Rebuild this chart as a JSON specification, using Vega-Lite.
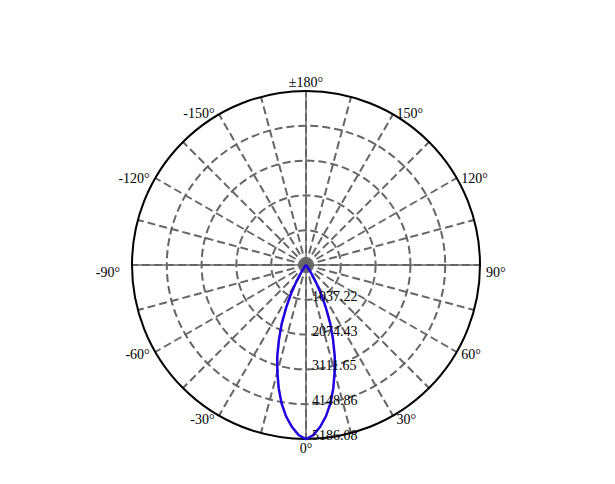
{
  "$schema": "https://vega.github.io/schema/vega-lite/v6.json",
  "width": 348,
  "height": 348,
  "autosize": {"type": "none"},
  "padding": {"left": 132, "top": 91, "right": 135, "bottom": 45},
  "background": "white",
  "config": {
    "view": {"stroke": null},
    "text": {"font": "Liberation Serif", "fontSize": 14, "color": "black"}
  },
  "datasets": {
    "rings": [{"r": 1037.22}, {"r": 2074.43}, {"r": 3111.65}, {"r": 4148.86}],
    "outer": [{"r": 5186.08}],
    "spokes": [
      {"angle": 0}, {"angle": 15}, {"angle": 30}, {"angle": 45}, {"angle": 60}, {"angle": 75},
      {"angle": 90}, {"angle": 105}, {"angle": 120}, {"angle": 135}, {"angle": 150}, {"angle": 165},
      {"angle": 180}, {"angle": 195}, {"angle": 210}, {"angle": 225}, {"angle": 240}, {"angle": 255},
      {"angle": 270}, {"angle": 285}, {"angle": 300}, {"angle": 315}, {"angle": 330}, {"angle": 345}
    ],
    "intensity": [
      {"angle": -180, "cd": 0}, {"angle": -150, "cd": 0}, {"angle": -120, "cd": 0}, {"angle": -90, "cd": 0},
      {"angle": -60, "cd": 0}, {"angle": -50, "cd": 2}, {"angle": -45, "cd": 5}, {"angle": -40, "cd": 15},
      {"angle": -37.5, "cd": 40}, {"angle": -35, "cd": 110}, {"angle": -32.5, "cd": 280}, {"angle": -30, "cd": 580},
      {"angle": -27.5, "cd": 960}, {"angle": -25, "cd": 1400}, {"angle": -22.5, "cd": 1890}, {"angle": -20, "cd": 2350},
      {"angle": -17.5, "cd": 2850}, {"angle": -15, "cd": 3300}, {"angle": -12.5, "cd": 3760}, {"angle": -10, "cd": 4190},
      {"angle": -7.5, "cd": 4550}, {"angle": -5, "cd": 4840}, {"angle": -2.5, "cd": 5072}, {"angle": 0, "cd": 5186.08},
      {"angle": 2.5, "cd": 5072}, {"angle": 5, "cd": 4840}, {"angle": 7.5, "cd": 4550}, {"angle": 10, "cd": 4190},
      {"angle": 12.5, "cd": 3760}, {"angle": 15, "cd": 3300}, {"angle": 17.5, "cd": 2850}, {"angle": 20, "cd": 2350},
      {"angle": 22.5, "cd": 1890}, {"angle": 25, "cd": 1400}, {"angle": 27.5, "cd": 960}, {"angle": 30, "cd": 580},
      {"angle": 32.5, "cd": 280}, {"angle": 35, "cd": 110}, {"angle": 37.5, "cd": 40}, {"angle": 40, "cd": 15},
      {"angle": 45, "cd": 5}, {"angle": 50, "cd": 2}, {"angle": 60, "cd": 0}, {"angle": 90, "cd": 0},
      {"angle": 120, "cd": 0}, {"angle": 150, "cd": 0}, {"angle": 180, "cd": 0}
    ],
    "angleLabels": [
      {"angle": 0, "label": "0°"}, {"angle": 30, "label": "30°"}, {"angle": 60, "label": "60°"},
      {"angle": 90, "label": "90°"}, {"angle": 120, "label": "120°"}, {"angle": 150, "label": "150°"},
      {"angle": 180, "label": "±180°"}, {"angle": -150, "label": "-150°"}, {"angle": -120, "label": "-120°"},
      {"angle": -90, "label": "-90°"}, {"angle": -60, "label": "-60°"}, {"angle": -30, "label": "-30°"}
    ]
  },
  "layer": [
    {
      "data": {"name": "rings"},
      "transform": [{"calculate": "0", "as": "cx"}],
      "mark": {"type": "point", "shape": "circle", "filled": false, "stroke": "#666666", "strokeWidth": 2, "strokeDash": [8, 4], "opacity": 1},
      "encoding": {
        "x": {"field": "cx", "type": "quantitative", "scale": {"domain": [-5186.08, 5186.08], "nice": false, "zero": false}, "axis": null},
        "y": {"field": "cx", "type": "quantitative", "scale": {"domain": [-5186.08, 5186.08], "nice": false, "zero": false}, "axis": null},
        "size": {"field": "r", "type": "quantitative", "scale": {"type": "pow", "exponent": 2, "domain": [0, 5186.08], "range": [0, 121104]}, "legend": null}
      }
    },
    {
      "data": {"name": "spokes"},
      "transform": [
        {"filter": "datum.angle % 90 == 0"},
        {"calculate": "0", "as": "cx"},
        {"calculate": "5186.08 * sin(datum.angle * PI / 180)", "as": "ex"},
        {"calculate": "-5186.08 * cos(datum.angle * PI / 180)", "as": "ey"}
      ],
      "mark": {"type": "rule", "color": "#666666", "strokeWidth": 1.5},
      "encoding": {
        "x": {"field": "cx", "type": "quantitative", "scale": {"domain": [-5186.08, 5186.08], "nice": false, "zero": false}, "axis": null},
        "y": {"field": "cx", "type": "quantitative", "scale": {"domain": [-5186.08, 5186.08], "nice": false, "zero": false}, "axis": null},
        "x2": {"field": "ex"},
        "y2": {"field": "ey"}
      }
    },
    {
      "data": {"name": "spokes"},
      "transform": [
        {"calculate": "0", "as": "cx"},
        {"calculate": "5186.08 * sin(datum.angle * PI / 180)", "as": "ex"},
        {"calculate": "-5186.08 * cos(datum.angle * PI / 180)", "as": "ey"}
      ],
      "mark": {"type": "rule", "color": "#666666", "strokeWidth": 2, "strokeDash": [8, 4]},
      "encoding": {
        "x": {"field": "cx", "type": "quantitative", "scale": {"domain": [-5186.08, 5186.08], "nice": false, "zero": false}, "axis": null},
        "y": {"field": "cx", "type": "quantitative", "scale": {"domain": [-5186.08, 5186.08], "nice": false, "zero": false}, "axis": null},
        "x2": {"field": "ex"},
        "y2": {"field": "ey"}
      }
    },
    {
      "data": {"name": "outer"},
      "transform": [{"calculate": "0", "as": "cx"}],
      "mark": {"type": "point", "shape": "circle", "filled": false, "stroke": "black", "strokeWidth": 2, "opacity": 1},
      "encoding": {
        "x": {"field": "cx", "type": "quantitative", "scale": {"domain": [-5186.08, 5186.08], "nice": false, "zero": false}, "axis": null},
        "y": {"field": "cx", "type": "quantitative", "scale": {"domain": [-5186.08, 5186.08], "nice": false, "zero": false}, "axis": null},
        "size": {"field": "r", "type": "quantitative", "scale": {"type": "pow", "exponent": 2, "domain": [0, 5186.08], "range": [0, 121104]}, "legend": null}
      }
    },
    {
      "data": {"name": "intensity"},
      "transform": [
        {"calculate": "datum.cd * sin(datum.angle * PI / 180)", "as": "px"},
        {"calculate": "-datum.cd * cos(datum.angle * PI / 180)", "as": "py"}
      ],
      "mark": {"type": "line", "color": "#2000e0", "strokeWidth": 2.5},
      "encoding": {
        "x": {"field": "px", "type": "quantitative", "scale": {"domain": [-5186.08, 5186.08], "nice": false, "zero": false}, "axis": null},
        "y": {"field": "py", "type": "quantitative", "scale": {"domain": [-5186.08, 5186.08], "nice": false, "zero": false}, "axis": null},
        "order": {"field": "angle", "type": "quantitative"}
      }
    },
    {
      "data": {"values": [{"r": 1037.22}, {"r": 2074.43}, {"r": 3111.65}, {"r": 4148.86}, {"r": 5186.08}]},
      "transform": [{"calculate": "0", "as": "cx"}, {"calculate": "-datum.r", "as": "py"}],
      "mark": {"type": "text", "align": "left", "baseline": "middle", "dx": 6, "dy": -3},
      "encoding": {
        "x": {"field": "cx", "type": "quantitative", "scale": {"domain": [-5186.08, 5186.08], "nice": false, "zero": false}, "axis": null},
        "y": {"field": "py", "type": "quantitative", "scale": {"domain": [-5186.08, 5186.08], "nice": false, "zero": false}, "axis": null},
        "text": {"field": "r", "type": "quantitative", "format": ".2f"}
      }
    },
    {
      "data": {"name": "angleLabels"},
      "transform": [
        {"filter": "datum.angle > 0 && datum.angle < 180 && datum.angle != 90"},
        {"calculate": "5275 * sin(datum.angle * PI / 180)", "as": "px"},
        {"calculate": "-5275 * cos(datum.angle * PI / 180)", "as": "py"}
      ],
      "mark": {"type": "text", "align": "left", "baseline": "middle", "dx": 2, "dy": 2},
      "encoding": {
        "x": {"field": "px", "type": "quantitative", "scale": {"domain": [-5186.08, 5186.08], "nice": false, "zero": false}, "axis": null},
        "y": {"field": "py", "type": "quantitative", "scale": {"domain": [-5186.08, 5186.08], "nice": false, "zero": false}, "axis": null},
        "text": {"field": "label", "type": "nominal"}
      }
    },
    {
      "data": {"name": "angleLabels"},
      "transform": [
        {"filter": "datum.angle < 0 && datum.angle != -90"},
        {"calculate": "5275 * sin(datum.angle * PI / 180)", "as": "px"},
        {"calculate": "-5275 * cos(datum.angle * PI / 180)", "as": "py"}
      ],
      "mark": {"type": "text", "align": "right", "baseline": "middle", "dx": -3, "dy": 2},
      "encoding": {
        "x": {"field": "px", "type": "quantitative", "scale": {"domain": [-5186.08, 5186.08], "nice": false, "zero": false}, "axis": null},
        "y": {"field": "py", "type": "quantitative", "scale": {"domain": [-5186.08, 5186.08], "nice": false, "zero": false}, "axis": null},
        "text": {"field": "label", "type": "nominal"}
      }
    },
    {
      "data": {"name": "angleLabels"},
      "transform": [
        {"filter": "datum.angle == 90"},
        {"calculate": "5186.08", "as": "px"},
        {"calculate": "0", "as": "py"}
      ],
      "mark": {"type": "text", "align": "left", "baseline": "middle", "dx": 6, "dy": 8},
      "encoding": {
        "x": {"field": "px", "type": "quantitative", "scale": {"domain": [-5186.08, 5186.08], "nice": false, "zero": false}, "axis": null},
        "y": {"field": "py", "type": "quantitative", "scale": {"domain": [-5186.08, 5186.08], "nice": false, "zero": false}, "axis": null},
        "text": {"field": "label", "type": "nominal"}
      }
    },
    {
      "data": {"name": "angleLabels"},
      "transform": [
        {"filter": "datum.angle == -90"},
        {"calculate": "-5186.08", "as": "px"},
        {"calculate": "0", "as": "py"}
      ],
      "mark": {"type": "text", "align": "right", "baseline": "middle", "dx": -12, "dy": 8},
      "encoding": {
        "x": {"field": "px", "type": "quantitative", "scale": {"domain": [-5186.08, 5186.08], "nice": false, "zero": false}, "axis": null},
        "y": {"field": "py", "type": "quantitative", "scale": {"domain": [-5186.08, 5186.08], "nice": false, "zero": false}, "axis": null},
        "text": {"field": "label", "type": "nominal"}
      }
    },
    {
      "data": {"name": "angleLabels"},
      "transform": [
        {"filter": "datum.angle == 0 || datum.angle == 180"},
        {"calculate": "5455 * sin(datum.angle * PI / 180)", "as": "px"},
        {"calculate": "-5455 * cos(datum.angle * PI / 180)", "as": "py"}
      ],
      "mark": {"type": "text", "align": "center", "baseline": "middle", "dy": 1},
      "encoding": {
        "x": {"field": "px", "type": "quantitative", "scale": {"domain": [-5186.08, 5186.08], "nice": false, "zero": false}, "axis": null},
        "y": {"field": "py", "type": "quantitative", "scale": {"domain": [-5186.08, 5186.08], "nice": false, "zero": false}, "axis": null},
        "text": {"field": "label", "type": "nominal"}
      }
    }
  ]
}
